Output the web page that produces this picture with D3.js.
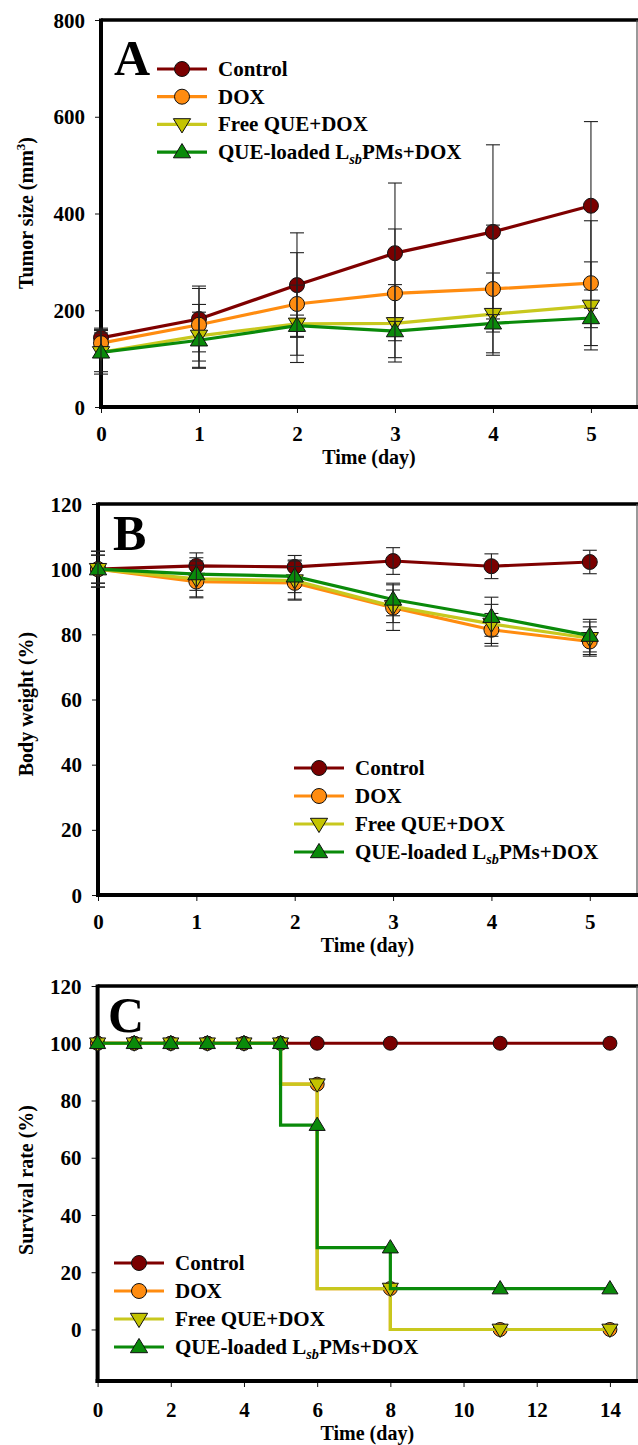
<!DOCTYPE html>
<html><head><meta charset="utf-8">
<script src="https://cdn.jsdelivr.net/npm/d3@7"></script>
<style>body{margin:0;background:#fff}svg{display:block}text{font-family:"Liberation Serif","Times New Roman",serif;font-weight:bold}</style>
</head><body>
<script>
// ---------- DATA ----------
const seriesNames = ["Control", "DOX", "Free QUE+DOX", "QUE-loaded LsbPMs+DOX"];
const seriesColors = ["#7f0000", "#ff8c10", "#c8c81e", "#0a8a0a"];
const markerFills = ["#7a0000", "#ff8c10", "#c4c400", "#0a8a0a"];
const markerShapes = ["circle", "circle", "down", "up"];

// Panel A: tumor size (mm3)
const aDays = [0, 1, 2, 3, 4, 5];
const aControl = [143, 182, 252, 318, 362, 416];
const aDox = [132, 170, 213, 235, 244, 256];
const aFree = [113, 147, 172, 173, 192, 209];
const aQue = [113, 138, 168, 157, 173, 184];
const aControlErr = [20, 68, 108, 145, 180, 174];
const aDoxErr = [28, 75, 106, 133, 132, 129];
const aFreeErr = [40, 65, 80, 80, 85, 91];
const aQueErr = [45, 58, 22, 20, 18, 20];
const aYTicks = [0, 200, 400, 600, 800];
const aXTicks = [0, 1, 2, 3, 4, 5];

// Panel B: body weight (%)
const bDays = [0, 1, 2, 3, 4, 5];
const bControl = [100, 101.0, 100.7, 102.5, 100.9, 102.2];
const bDox = [100, 96.2, 95.8, 88.2, 81.4, 77.8];
const bFree = [100, 97.0, 96.5, 88.6, 83.2, 78.8];
const bQue = [100, 98.5, 97.8, 90.7, 85.4, 79.6];
const bControlErr = [4.3, 4.0, 3.5, 4.1, 3.8, 3.6];
const bDoxErr = [5.5, 5.0, 5.0, 7.0, 5.0, 4.5];
const bFreeErr = [5.5, 5.5, 6.0, 5.0, 6.0, 5.0];
const bQueErr = [4.3, 5.0, 5.0, 5.0, 6.0, 5.0];
const bYTicks = [0, 20, 40, 60, 80, 100, 120];
const bXTicks = [0, 1, 2, 3, 4, 5];

// Panel C: survival rate (%)
const cDays = [0, 1, 2, 3, 4, 5, 6, 8, 11, 14];
const cControl = [100, 100, 100, 100, 100, 100, 100, 100, 100, 100];
const cDox = [100, 100, 100, 100, 100, 100, 85.7, 14.3, 0, 0];
const cFree = [100, 100, 100, 100, 100, 100, 85.7, 14.3, 0, 0];
const cQue = [100, 100, 100, 100, 100, 100, 71.4, 28.6, 14.3, 14.3];
const cYTicks = [0, 20, 40, 60, 80, 100, 120];
const cXTicks = [0, 2, 4, 6, 8, 10, 12, 14];

// ---------- DRAW ----------
const W = 638, H = 1445;
const svg = d3.select("body").append("svg").attr("width", W).attr("height", H);

function markerPath(shape, r) {
  if (shape === "circle") return d3.symbol(d3.symbolCircle, Math.PI * r * r)();
  const h = r * 1.9, w = r * 1.15;
  if (shape === "up") return `M0,${-h*0.6}L${w},${h*0.4}L${-w},${h*0.4}Z`;
  return `M0,${h*0.6}L${w},${-h*0.4}L${-w},${-h*0.4}Z`;
}

function drawMarker(g, shape, i, x, y, r) {
  g.append("path").attr("d", markerPath(shape, r))
    .attr("transform", `translate(${x},${y})`)
    .attr("fill", markerFills[i]).attr("stroke", "#111").attr("stroke-width", 1);
}

function legendLabel(t, name, size) {
  if (name === "QUE-loaded LsbPMs+DOX") {
    t.append("tspan").text("QUE-loaded L");
    t.append("tspan").attr("font-style", "italic").attr("font-size", size * 0.68).attr("dy", 5).text("sb");
    t.append("tspan").attr("dy", -5).text("PMs+DOX");
  } else t.text(name);
}

function panel(cfg) {
  const g = svg.append("g");
  const x = d3.scaleLinear().domain(cfg.xDomain).range([cfg.left, cfg.right]);
  const y = d3.scaleLinear().domain(cfg.yDomain).range([cfg.bottom, cfg.top]);

  // axes
  const yAxis = d3.axisLeft(y).tickValues(cfg.yTicks).tickSize(6).tickFormat(d3.format("d"));
  const gy = g.append("g").attr("transform", `translate(${cfg.left},0)`).call(yAxis);
  const xAxis = d3.axisBottom(x).tickValues(cfg.xTicks).tickSize(6).tickFormat(d3.format("d"));
  const gx = g.append("g").attr("transform", `translate(0,${cfg.bottom})`).call(xAxis);
  [gx, gy].forEach(a => {
    a.select(".domain").remove();
    a.selectAll(".tick line").attr("stroke", "#111").attr("stroke-width", 1);
    a.selectAll(".tick text").attr("font-size", 21).attr("fill", "#000")
      .attr("font-family", '"Liberation Serif",serif').attr("font-weight", "bold");
  });
  gy.selectAll(".tick text").attr("x", -16).attr("dy", "0.34em");
  gx.selectAll(".tick text").attr("y", 0).attr("dy", cfg.xLabelDy);

  // frame
  g.append("line").attr("x1", cfg.left).attr("x2", cfg.right + 1).attr("y1", cfg.top).attr("y2", cfg.top)
    .attr("stroke", "#000").attr("stroke-width", 3.5);
  g.append("line").attr("x1", cfg.right).attr("x2", cfg.right).attr("y1", cfg.top).attr("y2", cfg.bottom)
    .attr("stroke", "#555").attr("stroke-width", 1.2);
  g.append("line").attr("x1", cfg.left).attr("x2", cfg.left).attr("y1", cfg.top - 1.5).attr("y2", cfg.bottom + 2)
    .attr("stroke", "#000").attr("stroke-width", 4);
  g.append("line").attr("x1", cfg.left - 2).attr("x2", cfg.right + 1).attr("y1", cfg.bottom).attr("y2", cfg.bottom)
    .attr("stroke", "#000").attr("stroke-width", 4);

  // titles
  g.append("text").attr("x", (cfg.left + cfg.right) / 2).attr("y", cfg.xTitleY)
    .attr("text-anchor", "middle").attr("font-size", 20).text("Time (day)");
  const yt = g.append("text").attr("transform", `translate(${cfg.yTitleX},${cfg.yTitleY}) rotate(-90)`)
    .attr("text-anchor", "middle").attr("font-size", 20);
  if (cfg.yTitleSup) {
    yt.append("tspan").text(cfg.yTitle);
    yt.append("tspan").attr("font-size", 13).attr("dy", -8).text(cfg.yTitleSup);
    yt.append("tspan").attr("dy", 8).text(")");
  } else yt.text(cfg.yTitle);
  g.append("text").attr("x", cfg.letterX).attr("y", cfg.letterY).attr("font-size", 50).text(cfg.letter);

  // series
  const line = d3.line().x(d => x(d[0])).y(d => y(d[1]));
  if (cfg.step) line.curve(d3.curveStepBefore);
  cfg.series.forEach((vals, i) => {
    const pts = cfg.days.map((d, k) => [d, vals[k]]);
    const sg = g.append("g");
    sg.append("path").attr("d", line(pts)).attr("fill", "none")
      .attr("stroke", seriesColors[i]).attr("stroke-width", 3.2).attr("stroke-linejoin", "miter");
    pts.forEach((p, k) => drawMarker(sg, markerShapes[i], i, x(p[0]), y(p[1]), cfg.r));
    if (cfg.errs) {
      const e = cfg.errs[i];
      pts.forEach((p, k) => {
        const cx = x(p[0]), y1 = y(p[1] + e[k]), y2 = y(p[1] - e[k]);
        sg.append("line").attr("x1", cx).attr("x2", cx).attr("y1", y1).attr("y2", y2)
          .attr("stroke", "#222").attr("stroke-width", 1.1);
        [y1, y2].forEach(yy => sg.append("line").attr("x1", cx - 7).attr("x2", cx + 7)
          .attr("y1", yy).attr("y2", yy).attr("stroke", "#222").attr("stroke-width", 1.1));
      });
    }
  });

  // legend
  seriesNames.forEach((name, i) => {
    const ly = cfg.legY + i * cfg.legStep;
    g.append("line").attr("x1", cfg.legX).attr("x2", cfg.legX + 50).attr("y1", ly).attr("y2", ly)
      .attr("stroke", seriesColors[i]).attr("stroke-width", 3.2);
    drawMarker(g, markerShapes[i], i, cfg.legX + 25, ly, 7.5);
    const t = g.append("text").attr("x", cfg.legX + 61).attr("y", ly + 7).attr("font-size", 21);
    legendLabel(t, name, 21);
  });
}

panel({
  left: 101, right: 637, top: 20, bottom: 407,
  xDomain: [0, 5.47], yDomain: [0, 800], xTicks: aXTicks, yTicks: aYTicks,
  days: aDays, series: [aControl, aDox, aFree, aQue],
  errs: [aControlErr, aDoxErr, aFreeErr, aQueErr], r: 7.5,
  xLabelDy: 34, xTitleY: 464,
  yTitle: "Tumor size (mm", yTitleSup: "3", yTitleX: 33, yTitleY: 213,
  letter: "A", letterX: 114, letterY: 75,
  legX: 157, legY: 69, legStep: 27.7
});

panel({
  left: 98, right: 637, top: 504, bottom: 895,
  xDomain: [0, 5.48], yDomain: [0, 120], xTicks: bXTicks, yTicks: bYTicks,
  days: bDays, series: [bControl, bDox, bFree, bQue],
  errs: [bControlErr, bDoxErr, bFreeErr, bQueErr], r: 7.5,
  xLabelDy: 34, xTitleY: 952,
  yTitle: "Body weight (%)", yTitleX: 33, yTitleY: 704,
  letter: "B", letterX: 113, letterY: 550,
  legX: 294, legY: 768, legStep: 28
});

panel({
  left: 97.6, right: 637, top: 986, bottom: 1381,
  xDomain: [0, 14.74], yDomain: [-18, 120], xTicks: cXTicks, yTicks: cYTicks,
  days: cDays, series: [cControl, cDox, cFree, cQue], step: true, r: 7,
  xLabelDy: 36, xTitleY: 1440,
  yTitle: "Survival rate (%)", yTitleX: 33, yTitleY: 1180,
  letter: "C", letterX: 108, letterY: 1032,
  legX: 114, legY: 1263, legStep: 28
});
</script>
</body></html>
